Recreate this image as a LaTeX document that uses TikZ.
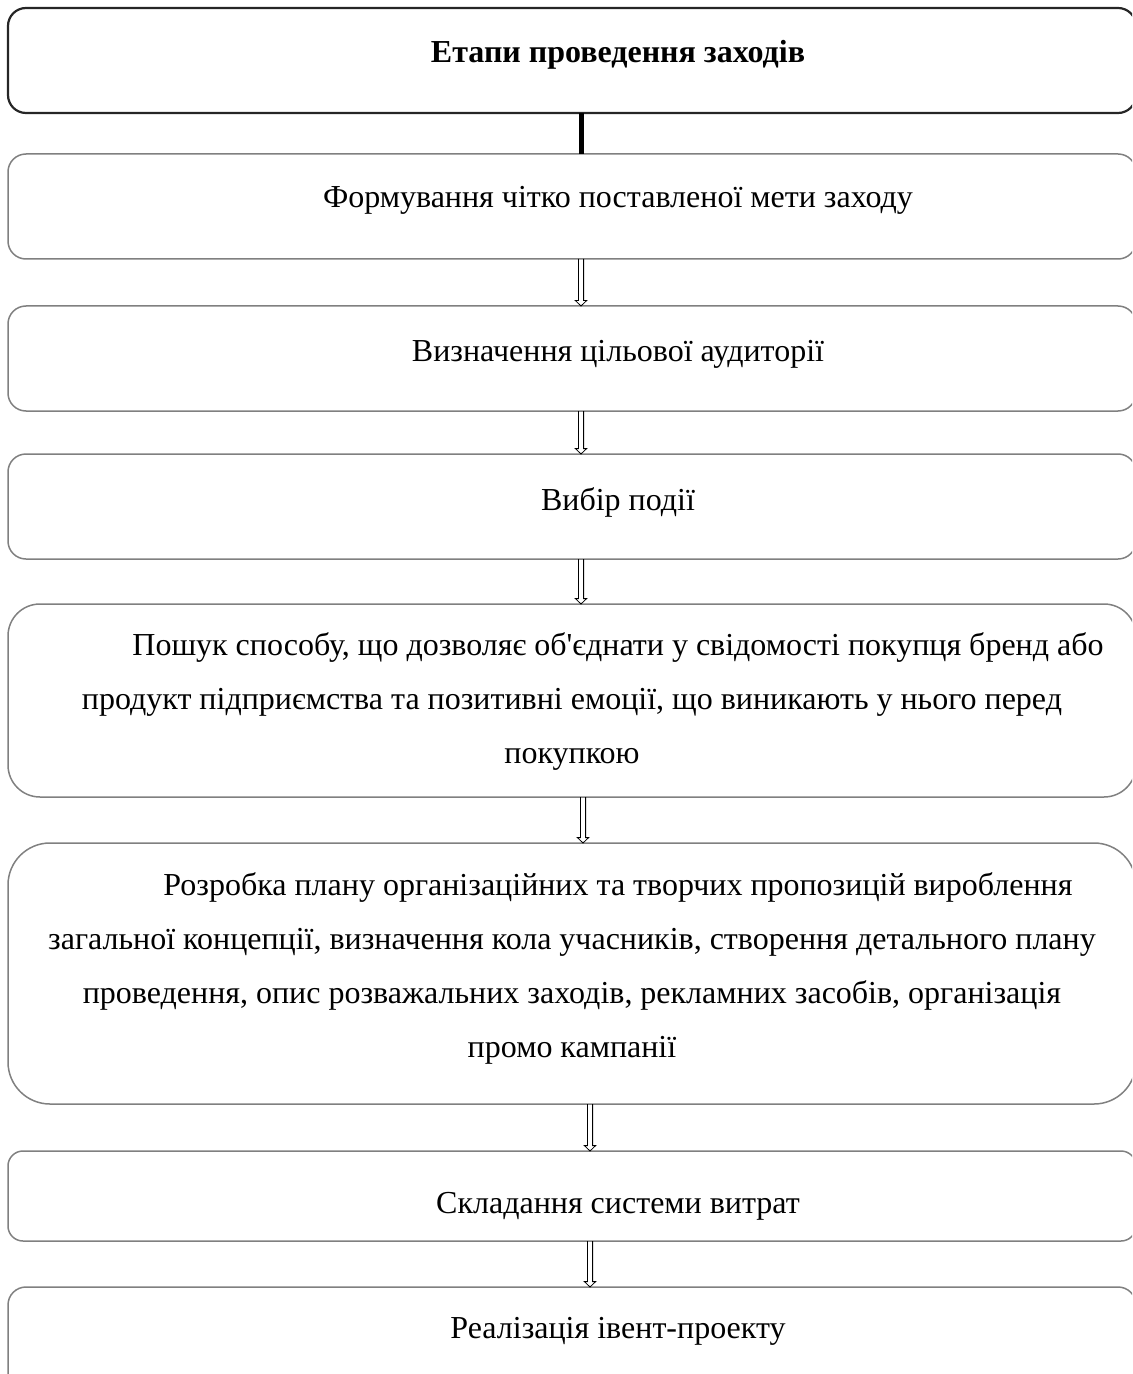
\documentclass[tikz,border=0pt]{standalone}
\usepackage{fontspec}
\setmainfont{Liberation Serif}[Ligatures=TeXOff]
\usetikzlibrary{positioning,calc}

\begin{document}
\begin{tikzpicture}
\tikzstyle{stage}=[shape=rectangle,draw=black!50,line width=0.75pt,text=black,text width=548pt,align=flush center,inner xsep=8pt,inner ysep=0pt,outer sep=0pt,font=\fontsize{16}{27}\selectfont]
\tikzstyle{title}=[draw=black!85,line width=1.1pt,font=\fontsize{16}{27}\selectfont\bfseries]
\tikzstyle{blockarrow}=[draw=black,line width=0.4pt,to path={($(\tikztostart)+(-1.3pt,0)$) -- ($(\tikztotarget)+(-1.3pt,2.7pt)$) -- ++(-1.5pt,0) -- (\tikztotarget) -- ($(\tikztotarget)+(2.8pt,2.7pt)$) -- ++(-1.5pt,0) -- ($(\tikztostart)+(1.3pt,0)$)}]

\path[use as bounding box] (0,0) rectangle (566pt,-687pt);
\clip (0,0) rectangle (566pt,-687pt);

\node[stage,title,rounded corners=9pt,text height=27.5pt,text depth=25pt] (stages) at (286pt,-4pt) [anchor=north] {\hspace*{46pt}Етапи проведення заходів};
\node[stage,rounded corners=9pt,text height=27pt,text depth=25.5pt] (goal) [below=20.5pt of stages] {\hspace*{46pt}Формування чітко поставленої мети заходу};
\node[stage,rounded corners=9pt,text height=27.5pt,text depth=25pt] (audience) [below=23.5pt of goal] {\hspace*{46pt}Визначення цільової аудиторії};
\node[stage,rounded corners=9pt,text height=28pt,text depth=24.5pt] (event) [below=21.5pt of audience] {\hspace*{46pt}Вибір події};
\node[stage,rounded corners=16pt,text height=25.5pt,text depth=71pt] (search) [below=22.5pt of event] {\hspace*{46pt}Пошук способу, що дозволяє об'єднати у свідомості покупця бренд або\\ продукт підприємства та позитивні емоції, що виникають у нього перед\\ покупкою};
\node[stage,rounded corners=21pt,text height=26pt,text depth=104.5pt] (plan) [below=23pt of search] {\hspace*{46pt}Розробка плану організаційних та творчих пропозицій вироблення\\ загальної концепції, визначення кола учасників, створення детального плану\\ проведення, опис розважальних заходів, рекламних засобів, організація\\ промо кампанії};
\node[stage,rounded corners=7.5pt,text height=31pt,text depth=14pt] (costs) [below=23.5pt of plan] {\hspace*{46pt}Складання системи витрат};
\node[stage,rounded corners=9pt,text height=25.5pt,text depth=27pt] (launch) [below=23pt of costs] {\hspace*{46pt}Реалізація івент-проекту};

\path
([xshift=4.5pt]stages.south) edge[draw,line width=2.5pt] ([xshift=4.5pt]goal.north)
([xshift=4.5pt]goal.south) edge[blockarrow] ([xshift=4.5pt]audience.north)
([xshift=4.5pt]audience.south) edge[blockarrow] ([xshift=4.5pt]event.north)
([xshift=4.5pt]event.south) edge[blockarrow] ([xshift=4.5pt]search.north)
([xshift=5.5pt]search.south) edge[blockarrow] ([xshift=5.5pt]plan.north)
([xshift=9pt]plan.south) edge[blockarrow] ([xshift=9pt]costs.north)
([xshift=9pt]costs.south) edge[blockarrow] ([xshift=9pt]launch.north);
\end{tikzpicture}
\end{document}
